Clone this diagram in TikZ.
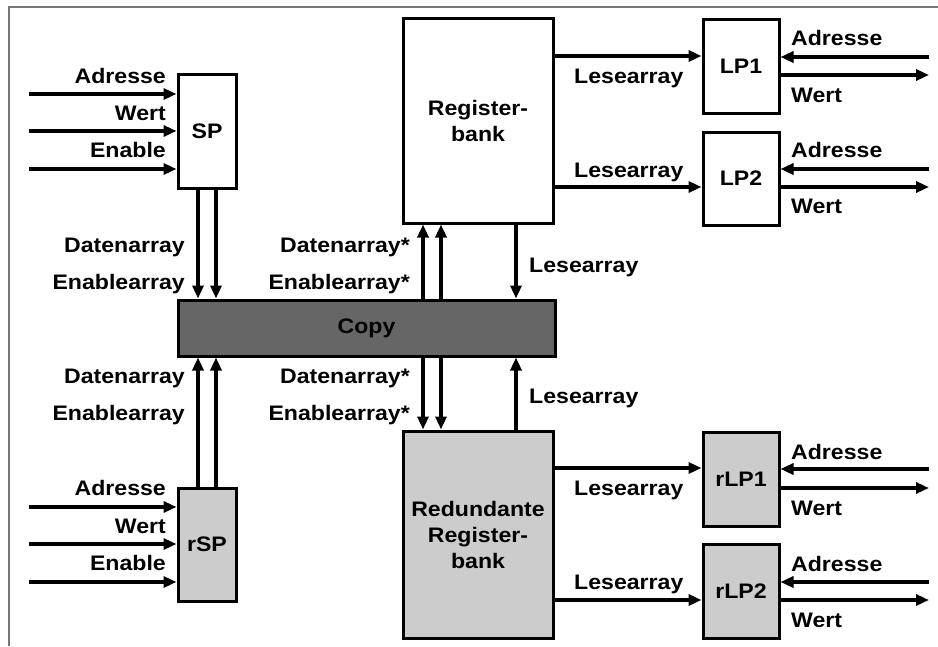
\documentclass[tikz,border=0pt]{standalone}
\usepackage{fontspec}
\setmainfont{Liberation Sans}[FakeStretch=1.1]
\usetikzlibrary{arrows.meta}
\definecolor{copygray}{HTML}{666666}
\definecolor{lightgray}{HTML}{CCCCCC}
\definecolor{framegray}{HTML}{777777}
\tikzset{
  blk/.style={draw=black, line width=3pt, minimum width=#1, inner sep=0pt, align=center, font=\bfseries\fontsize{21}{26}\selectfont},
  arr/.style={line width=3.3pt, -{Triangle[length=13pt,width=11pt]}},
  ln/.style={line width=3.3pt},
  lbl/.style={font=\bfseries\fontsize{21}{24}\selectfont, inner sep=0pt},
  framel/.style={draw=framegray, line width=2pt}
}
\begin{document}
\begin{tikzpicture}[x=1pt,y=-1pt]
\useasboundingbox (0,0) rectangle (938,646);
% frame
\coordinate (f0) at (9,646);
\coordinate (f1) at (9,7);
\coordinate (f2) at (938,7);
\draw[framel] (f0) -- (f1) -- (f2);

% blocks
\node[blk=58pt, minimum height=114pt] (SP) at (207,131) {SP};
\node[blk=58pt, minimum height=113pt, fill=lightgray] (rSP) at (207,544.5) {rSP};
\node[blk=377pt, minimum height=56pt, fill=copygray] (Copy) at (366.5,328) {Copy};
\node[blk=150pt, minimum height=205pt] (RB) at (478,120.5) {Register-\\bank};
\node[blk=150pt, minimum height=207pt, fill=lightgray] (RRB) at (478,534.5) {Redundante\\Register-\\bank};
\node[blk=76pt, minimum height=94pt] (LP1) at (741,66) {LP1};
\node[blk=76pt, minimum height=93pt] (LP2) at (741,178.5) {LP2};
\node[blk=76pt, minimum height=94pt, fill=lightgray] (rLP1) at (741,479) {rLP1};
\node[blk=76pt, minimum height=94pt, fill=lightgray] (rLP2) at (741,591) {rLP2};

% left inputs SP
\coordinate (sa) at (29,94);
\coordinate (sw) at (29,131);
\coordinate (se) at (29,169);
\draw[arr] (sa) -- (sa -| SP.west);
\draw[arr] (sw) -- (sw -| SP.west);
\draw[arr] (se) -- (se -| SP.west);
\node[lbl, anchor=base east] (tsa) at (166,83) {Adresse};
\node[lbl, anchor=base east] (tsw) at (166,120) {Wert};
\node[lbl, anchor=base east] (tse) at (166,157.5) {Enable};

% left inputs rSP
\coordinate (ra) at (29,507);
\coordinate (rw) at (29,544);
\coordinate (re) at (29,582);
\draw[arr] (ra) -- (ra -| rSP.west);
\draw[arr] (rw) -- (rw -| rSP.west);
\draw[arr] (re) -- (re -| rSP.west);
\node[lbl, anchor=base east] (tra) at (166,495.5) {Adresse};
\node[lbl, anchor=base east] (trw) at (166,533.5) {Wert};
\node[lbl, anchor=base east] (tre) at (166,570.5) {Enable};

% SP <-> Copy
\coordinate (x1) at (198,0);
\coordinate (x2) at (216,0);
\draw[arr] (SP.south -| x1) -- (Copy.north -| x1);
\draw[arr] (SP.south -| x2) -- (Copy.north -| x2);
\draw[arr] (rSP.north -| x1) -- (Copy.south -| x1);
\draw[arr] (rSP.north -| x2) -- (Copy.south -| x2);
\node[lbl, anchor=base east] (tda1) at (185,252) {Datenarray};
\node[lbl, anchor=base east] (tea1) at (185,289) {Enablearray};
\node[lbl, anchor=base east] (tda2) at (185,383) {Datenarray};
\node[lbl, anchor=base east] (tea2) at (185,420) {Enablearray};

% Copy <-> RB / RRB
\coordinate (x3) at (423,0);
\coordinate (x4) at (441,0);
\coordinate (x5) at (516,0);
\draw[arr] (Copy.north -| x3) -- (RB.south -| x3);
\draw[arr] (Copy.north -| x4) -- (RB.south -| x4);
\draw[arr] (RB.south -| x5) -- (Copy.north -| x5);
\draw[arr] (Copy.south -| x3) -- (RRB.north -| x3);
\draw[arr] (Copy.south -| x4) -- (RRB.north -| x4);
\draw[arr] (RRB.north -| x5) -- (Copy.south -| x5);
\node[lbl, anchor=base east] (tds1) at (410,252) {Datenarray*};
\node[lbl, anchor=base east] (tes1) at (410,289) {Enablearray*};
\node[lbl, anchor=base east] (tds2) at (410,383) {Datenarray*};
\node[lbl, anchor=base east] (tes2) at (410,420) {Enablearray*};
\node[lbl, anchor=base west] (tl1) at (529,272) {Lesearray};
\node[lbl, anchor=base west] (tl2) at (529,403) {Lesearray};

% RB -> LP
\coordinate (y1) at (0,56);
\coordinate (y2) at (0,187);
\coordinate (y3) at (0,468);
\coordinate (y4) at (0,600);
\draw[arr] (RB.east |- y1) -- (LP1.west |- y1);
\draw[arr] (RB.east |- y2) -- (LP2.west |- y2);
\draw[arr] (RRB.east |- y3) -- (rLP1.west |- y3);
\draw[arr] (RRB.east |- y4) -- (rLP2.west |- y4);
\node[lbl, anchor=base west] (tl3) at (574,83) {Lesearray};
\node[lbl, anchor=base west] (tl4) at (574,177) {Lesearray};
\node[lbl, anchor=base west] (tl5) at (574,495) {Lesearray};
\node[lbl, anchor=base west] (tl6) at (574,589) {Lesearray};

% LP right side
\coordinate (p1a) at (929,57);
\coordinate (p1w) at (929,75);
\coordinate (p2a) at (929,169);
\coordinate (p2w) at (929,187);
\coordinate (p3a) at (929,469);
\coordinate (p3w) at (929,488);
\coordinate (p4a) at (929,582);
\coordinate (p4w) at (929,600);
\draw[arr] (p1a) -- (p1a -| LP1.east);
\draw[arr] (p1w -| LP1.east) -- (p1w);
\draw[arr] (p2a) -- (p2a -| LP2.east);
\draw[arr] (p2w -| LP2.east) -- (p2w);
\draw[arr] (p3a) -- (p3a -| rLP1.east);
\draw[arr] (p3w -| rLP1.east) -- (p3w);
\draw[arr] (p4a) -- (p4a -| rLP2.east);
\draw[arr] (p4w -| rLP2.east) -- (p4w);
\node[lbl, anchor=base west] (q1a) at (791,45) {Adresse};
\node[lbl, anchor=base west] (q1w) at (791,102) {Wert};
\node[lbl, anchor=base west] (q2a) at (791,157) {Adresse};
\node[lbl, anchor=base west] (q2w) at (791,213) {Wert};
\node[lbl, anchor=base west] (q3a) at (791,459) {Adresse};
\node[lbl, anchor=base west] (q3w) at (791,515) {Wert};
\node[lbl, anchor=base west] (q4a) at (791,571) {Adresse};
\node[lbl, anchor=base west] (q4w) at (791,627) {Wert};
\end{tikzpicture}
\end{document}
